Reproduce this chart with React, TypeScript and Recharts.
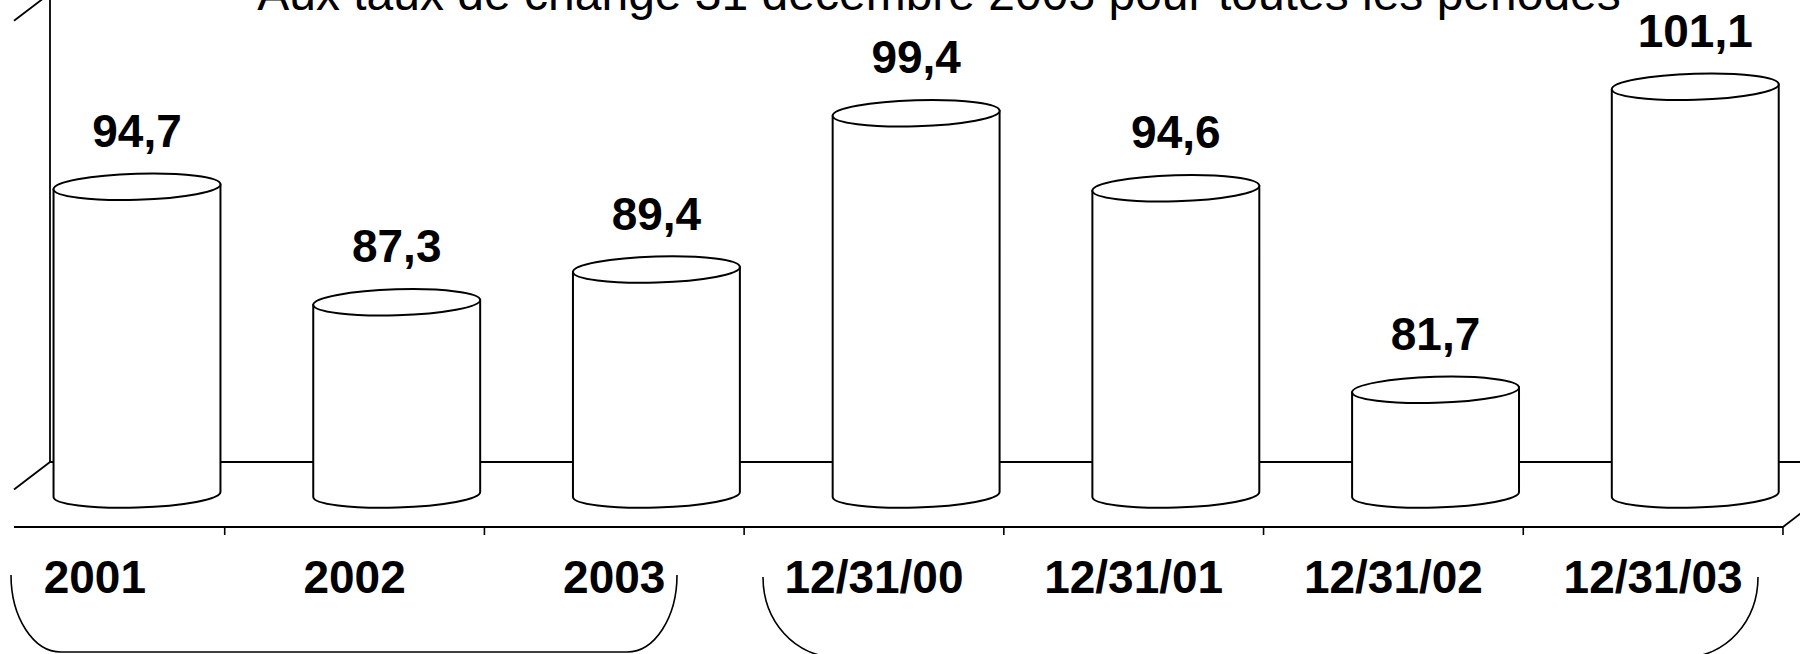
import React from 'react';
import { BarChart, Bar, XAxis, YAxis, LabelList } from 'recharts';

// Indice par période (base 100), aux taux de change du 31 décembre 2003
const categories = ['2001', '2002', '2003', '12/31/00', '12/31/01', '12/31/02', '12/31/03'];
const indexValues = [94.7, 87.3, 89.4, 99.4, 94.6, 81.7, 101.1];
const titleText = 'Aux taux de change 31 décembre 2003 pour toutes les périodes';
const valueDomain: [number, number] = [75, 105];
const valueTicks = [75, 85, 95, 105];

const data = categories.map((period, i) => ({ period, value: indexValues[i] }));

// Layout of the pseudo-3D frame
const PAGE_W = 1800;
const PAGE_H = 654;
const PLOT_LEFT = -35; // front plane starts just outside the visible area
const PLOT_TOP = 58.3;
const PLOT_BOTTOM = 527;
const DEPTH_X = 85; // floor depth vector
const DEPTH_Y = 65;
const BAND = 259.71;
const FRONT_W = BAND * categories.length;
const CHART_W = FRONT_W + DEPTH_X;
const AXIS_H = 100;
const MARGIN_BOTTOM = PAGE_H - PLOT_BOTTOM - AXIS_H;
const CROP_X = 14;
const BAR_W = 167;
const RY = 13;
const TILT_DEG = 1.7;
const LABEL_GAP = 40;
const FONT = '"Liberation Sans", Arial, Helvetica, sans-serif';

const fmt = (v: number) => Number(v).toFixed(1).replace('.', ',');

const Cylinder = (props: any) => {
  const { x, y, width, height } = props;
  if (x == null || y == null) return null;
  const rx = width / 2;
  const cx = x + rx;
  const top = y - DEPTH_Y / 2;
  const bottom = y + height - DEPTH_Y / 2;
  const t = (TILT_DEG * Math.PI) / 180;
  const c = rx * Math.cos(t);
  const s = rx * Math.sin(t);
  const body = `M ${cx - c} ${top + s} L ${cx - c} ${bottom + s} A ${rx} ${RY} ${-TILT_DEG} 0 0 ${cx + c} ${bottom - s} L ${cx + c} ${top - s} Z`;
  return (
    <g>
      <path d={body} fill="#fff" stroke="#000" strokeWidth={2} strokeLinejoin="round" />
      <ellipse
        cx={cx}
        cy={top}
        rx={rx}
        ry={RY}
        transform={`rotate(${-TILT_DEG} ${cx} ${top})`}
        fill="#fff"
        stroke="#000"
        strokeWidth={2}
      />
    </g>
  );
};

const ValueLabel = (props: any) => {
  const { x, y, width, value } = props;
  if (x == null || y == null) return null;
  return (
    <text
      x={x + width / 2}
      y={y - DEPTH_Y / 2 - LABEL_GAP}
      textAnchor="middle"
      fontFamily={FONT}
      fontWeight="bold"
      fontSize={46}
      fill="#000"
    >
      {fmt(value)}
    </text>
  );
};

const FrontTick = (props: any) => {
  const { x, y, payload } = props;
  const edge = x + BAND / 2;
  return (
    <g>
      <line x1={edge} y1={y - 8} x2={edge} y2={y} stroke="#000" strokeWidth={1.6} />
      <text
        x={x}
        y={y + 58}
        textAnchor="middle"
        fontFamily={FONT}
        fontWeight="bold"
        fontSize={46}
        fill="#000"
      >
        {payload.value}
      </text>
    </g>
  );
};

const Frame = () => {
  const backY = PLOT_BOTTOM - DEPTH_Y;
  const backLeftX = PLOT_LEFT + DEPTH_X;
  const frontRight = PLOT_LEFT + FRONT_W;
  const tCrop = (CROP_X - PLOT_LEFT) / DEPTH_X;
  return (
    <svg
      width={PAGE_W}
      height={PAGE_H}
      style={{ position: 'absolute', left: 0, top: 0 }}
    >
      <text
        x={939}
        y={10}
        textAnchor="middle"
        fontFamily={FONT}
        fontSize={48}
        fill="#000"
      >
        {titleText}
      </text>
      {/* floor */}
      <line x1={backLeftX} y1={backY} x2={PAGE_W} y2={backY} stroke="#000" strokeWidth={2} />
      <line x1={CROP_X} y1={PLOT_BOTTOM} x2={frontRight} y2={PLOT_BOTTOM} stroke="#000" strokeWidth={2.2} />
      <line
        x1={CROP_X}
        y1={PLOT_BOTTOM - DEPTH_Y * tCrop}
        x2={backLeftX}
        y2={backY}
        stroke="#000"
        strokeWidth={1.8}
      />
      <line
        x1={frontRight}
        y1={PLOT_BOTTOM}
        x2={frontRight + DEPTH_X}
        y2={backY}
        stroke="#000"
        strokeWidth={1.8}
      />
      {/* left wall */}
      <line x1={backLeftX} y1={backY} x2={backLeftX} y2={PLOT_TOP - DEPTH_Y} stroke="#000" strokeWidth={1.8} />
      <line
        x1={CROP_X}
        y1={PLOT_TOP - DEPTH_Y * tCrop}
        x2={backLeftX}
        y2={PLOT_TOP - DEPTH_Y}
        stroke="#000"
        strokeWidth={1.8}
      />
      {/* period group brackets */}
      <path
        d="M 11 575 A 50 77 0 0 0 61 652 L 627 652 A 50 77 0 0 0 677 575"
        fill="none"
        stroke="#000"
        strokeWidth={1.6}
      />
      <path
        d="M 763 577 A 72 80 0 0 0 835 657 L 1686 657 A 72 80 0 0 0 1758 577"
        fill="none"
        stroke="#000"
        strokeWidth={1.6}
      />
    </svg>
  );
};

export default function App() {
  return (
    <div
      style={{
        position: 'absolute',
        left: 0,
        top: 0,
        width: PAGE_W,
        height: PAGE_H,
        overflow: 'hidden',
        background: '#fff',
      }}
    >
      <Frame />
      <div style={{ position: 'absolute', left: PLOT_LEFT, top: 0 }}>
        <BarChart
          width={CHART_W}
          height={PAGE_H}
          data={data}
          margin={{ top: PLOT_TOP, right: 0, bottom: MARGIN_BOTTOM, left: 0 }}
        >
          <XAxis
            xAxisId="front"
            dataKey="period"
            padding={{ left: 0, right: DEPTH_X }}
            axisLine={false}
            tickLine={false}
            tickSize={8}
            tickMargin={0}
            height={AXIS_H}
            interval={0}
            tick={<FrontTick />}
          />
          <XAxis
            xAxisId="mid"
            dataKey="period"
            hide
            padding={{ left: DEPTH_X / 2, right: DEPTH_X / 2 }}
          />
          <YAxis hide type="number" domain={valueDomain} ticks={valueTicks} allowDataOverflow />
          <Bar
            xAxisId="mid"
            dataKey="value"
            barSize={BAR_W}
            shape={<Cylinder />}
            isAnimationActive={false}
          >
            <LabelList dataKey="value" content={<ValueLabel />} />
          </Bar>
        </BarChart>
      </div>
    </div>
  );
}
